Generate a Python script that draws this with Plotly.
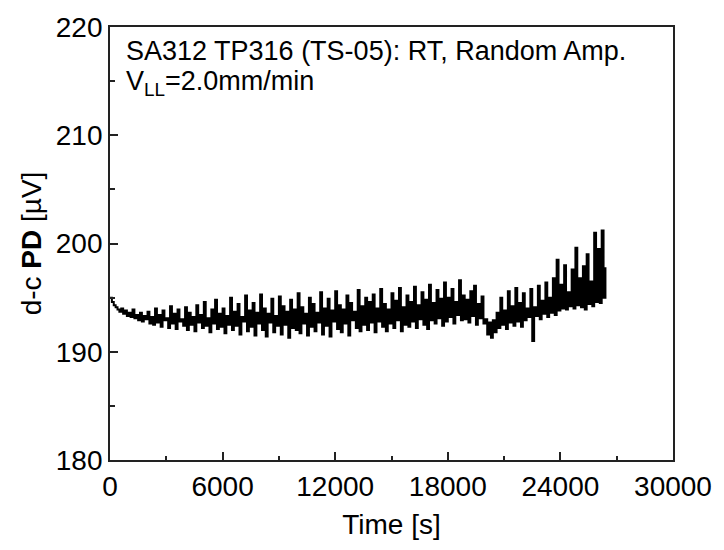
import plotly.graph_objects as go

# Time sampling grid [s]
time_s = list(range(0, 26500, 100))

# d-c PD [uV] (one value per 100 s)
pd_uV = [
    195.0,194.6,194.3,194.1,193.9,193.7,194.0,193.5,193.8,193.3,193.6,193.2,193.9,193.1,193.4,192.9,193.6,192.8,193.3,193.0,
    193.7,192.6,193.2,192.5,194.0,192.7,193.4,192.3,193.8,192.9,193.1,192.2,194.2,192.6,193.5,192.1,193.9,192.8,193.0,192.4,
    194.1,192.0,193.6,192.5,193.2,191.9,194.3,192.7,193.4,192.2,194.6,192.4,193.1,191.8,193.9,192.6,194.8,192.1,193.5,192.3,
    194.0,191.7,193.3,192.5,195.0,192.0,193.7,192.4,194.4,191.6,193.2,192.8,195.2,191.9,193.8,192.3,194.5,191.5,193.6,192.6,
    195.3,192.0,194.0,191.4,193.5,192.7,194.9,191.8,193.3,192.4,195.1,191.6,194.2,192.5,193.7,191.3,194.8,192.2,193.9,192.0,
    195.4,191.7,194.1,192.6,193.5,191.5,195.0,192.3,194.4,191.9,193.6,192.7,195.5,191.6,194.0,192.4,194.9,191.4,193.8,192.8,
    195.6,192.1,194.3,191.8,193.9,192.6,195.2,191.5,194.5,192.9,193.7,192.2,195.7,191.9,194.2,192.5,195.0,192.0,194.6,192.7,
    195.3,191.8,194.0,192.8,195.8,192.3,194.4,191.9,193.9,192.6,195.4,192.2,194.7,192.9,195.9,191.9,194.1,192.5,195.2,192.3,
    194.6,192.8,196.0,192.2,194.3,193.0,195.5,192.5,194.8,192.1,196.2,192.9,194.5,192.6,195.7,193.1,194.9,192.4,196.4,192.8,
    195.0,193.2,195.8,192.6,194.6,193.4,196.6,192.9,195.2,193.0,194.8,192.7,195.6,193.3,196.1,192.5,194.4,193.1,195.1,192.6,
    193.0,191.6,192.7,191.3,192.9,191.8,193.6,192.2,195.0,192.5,193.8,192.1,195.6,192.7,194.2,192.4,195.9,192.8,194.5,192.3,
    195.4,192.9,194.0,193.2,195.8,191.0,194.1,193.3,196.1,193.0,194.7,193.5,196.4,193.2,195.0,193.6,196.8,193.4,198.5,193.8,
    196.2,194.0,198.0,193.9,195.5,194.2,197.6,194.0,199.6,194.3,196.8,194.1,197.9,193.9,199.0,194.4,196.5,194.2,201.0,194.6,
    199.5,194.5,201.2,195.0,197.8,
]

x_ticks = [0, 6000, 12000, 18000, 24000, 30000]
y_ticks = [180, 190, 200, 210, 220]

title_line1 = "SA312 TP316 (TS-05): RT, Random Amp."
title_line2 = "V<sub>LL</sub>=2.0mm/min"

FONT = "Liberation Sans, Arial, sans-serif"
AX = "#222222"

fig = go.Figure()
fig.add_trace(go.Scatter(
    x=time_s, y=pd_uV, mode="lines",
    line=dict(color="black", width=2, shape="hv"),
    showlegend=False,
))

fig.update_layout(
    width=724, height=550,
    margin=dict(l=110, r=45, t=23, b=90),
    paper_bgcolor="white", plot_bgcolor="white",
    font=dict(family=FONT, size=28, color="black"),
    xaxis=dict(
        range=[0, 30000], tickvals=x_ticks, ticktext=[str(v) for v in x_ticks],
        ticks="inside", ticklen=8, tickwidth=1.5, tickcolor=AX,
        minor=dict(dtick=3000, tick0=0, ticks="inside", ticklen=4, tickwidth=1.5, tickcolor=AX),
        showline=True, linecolor=AX, linewidth=1.8, mirror=True,
        showgrid=False, zeroline=False,
        tickfont=dict(size=28),
        title=dict(text="Time [s]", font=dict(size=28), standoff=14),
    ),
    yaxis=dict(
        range=[180, 220], tickvals=y_ticks, ticktext=[str(v) for v in y_ticks],
        ticks="inside", ticklen=8, tickwidth=1.5, tickcolor=AX,
        minor=dict(dtick=5, tick0=180, ticks="inside", ticklen=5, tickwidth=1.5, tickcolor=AX),
        showline=True, linecolor=AX, linewidth=1.8, mirror=True,
        showgrid=False, zeroline=False,
        tickfont=dict(size=28),
        title=dict(text="d-c <b>PD</b> [µV]", font=dict(size=28), standoff=6),
    ),
)

fig.add_annotation(
    text=title_line1, xref="paper", yref="paper", x=0.0246, y=0.944,
    xanchor="left", yanchor="middle", showarrow=False,
    font=dict(family=FONT, size=27, color="black"),
)
fig.add_annotation(
    text=title_line2, xref="paper", yref="paper", x=0.0246, y=0.871,
    xanchor="left", yanchor="middle", showarrow=False,
    font=dict(family=FONT, size=27, color="black"),
)

fig.write_html("out.html")
